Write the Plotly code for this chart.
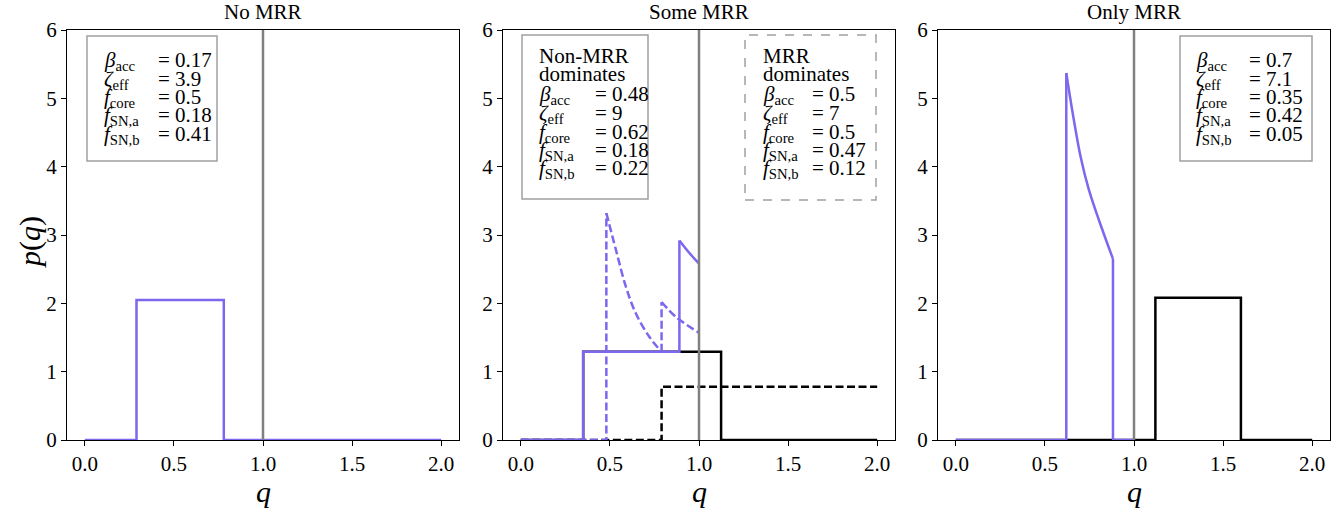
import plotly.graph_objects as go

# ---------------- data ----------------
# Panel 1: No MRR
q1_purple = [0.0, 0.29, 0.29, 0.78, 0.78, 2.0]
p1_purple = [0, 0, 2.05, 2.05, 0, 0]

# Panel 2: Some MRR
q2_black_solid = [0.0, 0.35, 0.35, 1.124, 1.124, 2.0]
p2_black_solid = [0, 0, 1.29, 1.29, 0, 0]
q2_black_dash = [0.0, 0.79, 0.79, 2.0]
p2_black_dash = [0, 0, 0.78, 0.78]
q2_purple_solid_step = [0.0, 0.35, 0.35, 0.89, 0.89]
p2_purple_solid_step = [0, 0, 1.29, 1.29, 2.92]
q2_purple_solid_curve = [0.89, 0.945, 1.0]
p2_purple_solid_curve = [2.92, 2.74, 2.58]
q2_purple_dash_step = [0.0, 0.48, 0.48]
p2_purple_dash_step = [0, 0, 3.32]
q2_purple_dash_curve1 = [0.48, 0.534, 0.59, 0.646, 0.721, 0.79]
p2_purple_dash_curve1 = [3.32, 2.78, 2.24, 1.85, 1.51, 1.29]
q2_purple_dash_jump = [0.79, 0.79]
p2_purple_dash_jump = [1.29, 2.02]
q2_purple_dash_curve2 = [0.79, 0.871, 1.0]
p2_purple_dash_curve2 = [2.02, 1.80, 1.57]

# Panel 3: Only MRR
q3_purple_step = [0.0, 0.62, 0.62]
p3_purple_step = [0, 0, 5.37]
q3_purple_curve = [0.62, 0.653, 0.70, 0.747, 0.803, 0.882]
p3_purple_curve = [5.37, 4.83, 4.15, 3.66, 3.22, 2.65]
q3_purple_tail = [0.882, 0.882, 1.0]
p3_purple_tail = [2.65, 0, 0]
q3_black = [0.0, 1.12, 1.12, 1.6, 1.6, 2.0]
p3_black = [0, 0, 2.08, 2.08, 0, 0]

panel_titles = ["No MRR", "Some MRR", "Only MRR"]
x_tickvals = [0.0, 0.5, 1.0, 1.5, 2.0]
x_ticktext = ["0.0", "0.5", "1.0", "1.5", "2.0"]
y_tickvals = [0, 1, 2, 3, 4, 5, 6]

param_labels = ["<i>β</i><sub>acc</sub>", "<i>ζ</i><sub>eff</sub>", "<i>f</i><sub>core</sub>",
                "<i>f</i><sub>SN,a</sub>", "<i>f</i><sub>SN,b</sub>"]
box1_values = ["0.17", "3.9", "0.5", "0.18", "0.41"]
box2a_header = ["Non-MRR", "dominates"]
box2a_values = ["0.48", "9", "0.62", "0.18", "0.22"]
box2b_header = ["MRR", "dominates"]
box2b_values = ["0.5", "7", "0.5", "0.47", "0.12"]
box3_values = ["0.7", "7.1", "0.35", "0.42", "0.05"]

# ---------------- styling ----------------
W, H = 1340, 514
PURPLE = "#7B68EE"
FONT = "Liberation Serif, Times New Roman, serif"
LW = 2.5
DASH = "8px,3.5px"
FS = 21


def px(x):
    return x / W


def py(y):
    return 1 - y / H


fig = go.Figure()


def add(q, p, ax, color, dash="solid", shape="linear"):
    fig.add_trace(go.Scatter(x=q, y=p, mode="lines", xaxis="x" + ax, yaxis="y" + ax,
                             line=dict(color=color, width=LW, dash=dash, shape=shape),
                             showlegend=False, hoverinfo="skip"))


# panel 1
add(q1_purple, p1_purple, "", PURPLE)
# panel 2
add(q2_black_solid, p2_black_solid, "2", "black")
add(q2_black_dash, p2_black_dash, "2", "black", DASH)
add(q2_purple_dash_step, p2_purple_dash_step, "2", PURPLE, DASH)
add(q2_purple_dash_curve1, p2_purple_dash_curve1, "2", PURPLE, DASH, "spline")
add(q2_purple_dash_jump, p2_purple_dash_jump, "2", PURPLE, DASH)
add(q2_purple_dash_curve2, p2_purple_dash_curve2, "2", PURPLE, DASH, "spline")
add(q2_purple_solid_step, p2_purple_solid_step, "2", PURPLE)
add(q2_purple_solid_curve, p2_purple_solid_curve, "2", PURPLE, "solid", "spline")
# panel 3
add(q3_black, p3_black, "3", "black")
add(q3_purple_step, p3_purple_step, "3", PURPLE)
add(q3_purple_curve, p3_purple_curve, "3", PURPLE, "solid", "spline")
add(q3_purple_tail, p3_purple_tail, "3", PURPLE)

domains_px = [(67, 459), (503, 895), (938, 1330)]
ydom = [py(440), py(30)]

axis_common = dict(showline=True, linecolor="black", linewidth=1.2, mirror=True,
                   ticks="outside", ticklen=5, tickwidth=1.2, tickcolor="black",
                   showgrid=False, zeroline=False, automargin=False,
                   tickfont=dict(family=FONT, size=FS, color="black"))

layout = dict(template="none", width=W, height=H,
              margin=dict(l=0, r=0, t=0, b=0, pad=0, autoexpand=False),
              plot_bgcolor="white", paper_bgcolor="white", showlegend=False,
              font=dict(family=FONT, size=FS, color="black"))
for i, (a, b) in enumerate(domains_px):
    sfx = "" if i == 0 else str(i + 1)
    layout["xaxis" + sfx] = dict(axis_common, domain=[px(a), px(b)], range=[-0.1, 2.1],
                                 tickvals=x_tickvals, ticktext=x_ticktext,
                                 anchor="y" + sfx)
    layout["yaxis" + sfx] = dict(axis_common, domain=ydom, range=[0, 6],
                                 tickvals=y_tickvals, anchor="x" + sfx)
fig.update_layout(**layout)

shapes = []
annotations = []
for i, (a, b) in enumerate(domains_px):
    sfx = "" if i == 0 else str(i + 1)
    shapes.append(dict(type="line", xref="x" + sfx, yref="y" + sfx + " domain",
                       x0=1.0, x1=1.0, y0=0, y1=1, line=dict(color="#808080", width=2.5)))
    annotations.append(dict(text=panel_titles[i], xref="paper", yref="paper",
                            x=px((a + b) / 2), y=py(12), xanchor="center", yanchor="middle",
                            showarrow=False, font=dict(family=FONT, size=FS, color="black")))
    annotations.append(dict(text="<i>q</i>", xref="paper", yref="paper",
                            x=px((a + b) / 2), y=py(491), xanchor="center",
                            yanchor="middle", showarrow=False,
                            font=dict(family=FONT, size=30, color="black")))

annotations.append(dict(text="<i>p</i>(<i>q</i>)", xref="paper", yref="paper",
                        x=px(30), y=py(242), xanchor="center", yanchor="middle",
                        textangle=-90, showarrow=False,
                        font=dict(family=FONT, size=30, color="black")))

SUBPAD = "<sub>&nbsp;</sub>"


def text_box(x0, x1, y0, y1, tx, ex, ys, header, values, dash="solid"):
    shapes.append(dict(type="rect", xref="paper", yref="paper",
                       x0=px(x0), x1=px(x1), y0=py(y1), y1=py(y0),
                       line=dict(color="#a0a0a0", width=1.5, dash=dash),
                       fillcolor="white", layer="above"))
    k = 0
    for h in header:
        annotations.append(dict(text=h, xref="paper", yref="paper", x=px(tx), y=py(ys[k]),
                                xanchor="left", yanchor="middle", showarrow=False,
                                font=dict(family=FONT, size=FS, color="black")))
        k += 1
    for lab, val in zip(param_labels, values):
        yy = py(ys[k] + 3)
        annotations.append(dict(text=lab, xref="paper", yref="paper", x=px(tx), y=yy,
                                xanchor="left", yanchor="middle", showarrow=False,
                                font=dict(family=FONT, size=FS, color="black")))
        annotations.append(dict(text="= " + val + SUBPAD, xref="paper", yref="paper",
                                x=px(ex), y=yy, xanchor="left", yanchor="middle",
                                showarrow=False,
                                font=dict(family=FONT, size=FS, color="black")))
        k += 1


ys5 = [58, 77, 95, 113, 132]
ys7 = [56, 74, 92, 111, 130, 148, 166]
text_box(87, 217, 36, 161, 102, 156, ys5, [], box1_values)
text_box(522, 648, 35, 199, 537, 593, ys7, box2a_header, box2a_values)
text_box(745, 876, 35, 200, 761, 810, ys7, box2b_header, box2b_values, dash="dash")
text_box(1180, 1312, 36, 161, 1194, 1247, ys5, [], box3_values)

fig.update_layout(shapes=shapes, annotations=annotations)
fig.write_html("out.html")
